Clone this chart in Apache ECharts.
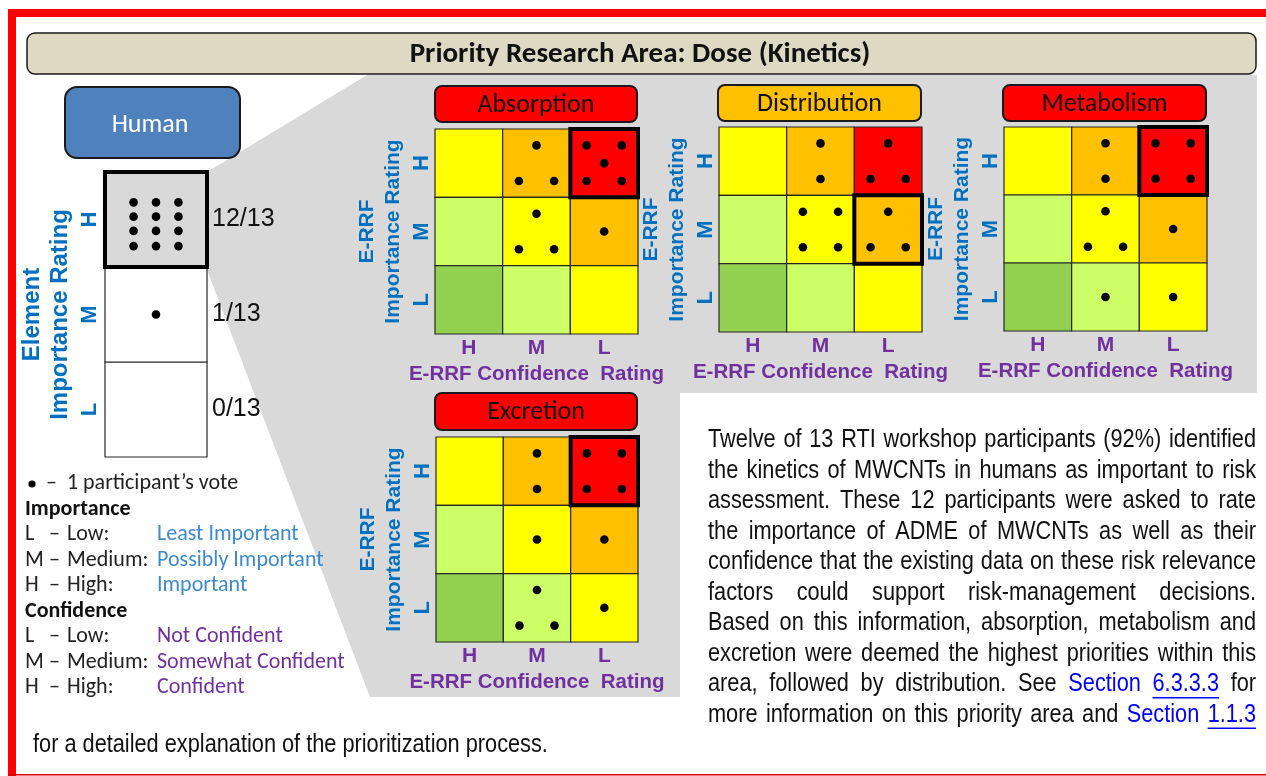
<!DOCTYPE html>
<html>
<head>
<meta charset="utf-8">
<script src="https://cdn.jsdelivr.net/npm/echarts@6/dist/echarts.min.js"></script>
<style>
  html, body { margin: 0; padding: 0; background: #fff; }
  #main { width: 1266px; height: 776px; }
</style>
</head>
<body>
<div id="main"></div>
<script>
// axis levels
const confidenceLevels = ['H', 'M', 'L'];
const importanceLevels = ['L', 'M', 'H'];
// votes per cell: rows = importance H, M, L ; columns = confidence H, M, L
const absorptionVotes = [[0, 3, 5], [0, 3, 1], [0, 0, 0]];
const distributionVotes = [[0, 2, 3], [0, 4, 3], [0, 0, 0]];
const metabolismVotes = [[0, 2, 4], [0, 3, 1], [0, 1, 1]];
const excretionVotes = [[0, 2, 4], [0, 1, 1], [0, 3, 1]];
// boxed (highest priority) cell of each matrix: [confidence, importance]
const absorptionTop = ['L', 'H'];
const distributionTop = ['L', 'M'];
const metabolismTop = ['L', 'H'];
const excretionTop = ['L', 'H'];
// element importance (Human)
const elementLevels = ['L', 'M', 'H'];
const elementVotes = [0, 1, 12];
const participants = 13;

const BLUE = '#0070C0', PURPLE = '#7030A0';
const riskColors = [
  ['#FFFF00', '#FFC000', '#FF0000'],
  ['#CCFF66', '#FFFF00', '#FFC000'],
  ['#92D050', '#CCFF66', '#FFFF00']
];
const CAL = 'Carlito, Lato, "Open Sans", sans-serif';
const ARIAL = '"Liberation Sans", Arial, sans-serif';

const matrices = [
  { name: 'Absorption', votes: absorptionVotes, top: absorptionTop, head: '#FF0000',
    grid: { left: 435, top: 129, width: 203, height: 205 }, box: [435, 86, 202, 36] },
  { name: 'Distribution', votes: distributionVotes, top: distributionTop, head: '#FFC000',
    grid: { left: 719, top: 127, width: 203, height: 205 }, box: [718, 85, 203, 36] },
  { name: 'Metabolism', votes: metabolismVotes, top: metabolismTop, head: '#FF0000',
    grid: { left: 1004, top: 127, width: 203, height: 204 }, box: [1003, 85, 203, 36] },
  { name: 'Excretion', votes: excretionVotes, top: excretionTop, head: '#FF0000',
    grid: { left: 436, top: 437, width: 202, height: 205 }, box: [435, 393, 202, 37] }
];

// where the dots sit inside a cell (fractions of the cell, from its centre)
function dotOffsets(n) {
  const a = 0.26;
  if (n === 1) return [[0, 0]];
  if (n === 2) return [[0, -a], [0, a]];
  if (n === 3) return [[0, -a], [-a, a], [a, a]];
  if (n === 4) return [[-a, -a], [a, -a], [-a, a], [a, a]];
  if (n === 5) return [[-a, -a], [a, -a], [0, 0], [-a, a], [a, a]];
  const out = [];
  const rows = [-0.18, -0.03, 0.12, 0.28];
  for (let i = 0; i < n; i++) out.push([[-0.22, 0, 0.22][i % 3], rows[Math.floor(i / 3)]]);
  return out;
}

function cellRender(fill) {
  return function (params, api) {
    const x = api.value(0), y = api.value(1), n = api.value(2);
    const c = api.coord([x, y]);
    const s = api.size([1, 1]);
    const kids = [{
      type: 'rect',
      shape: { x: c[0] - s[0] / 2, y: c[1] - s[1] / 2, width: s[0], height: s[1] },
      style: { fill: fill(x, y), stroke: '#262626', lineWidth: 1.2 }
    }];
    dotOffsets(n).forEach(o => kids.push({
      type: 'circle',
      shape: { cx: c[0] + o[0] * s[0], cy: c[1] + o[1] * s[1], r: 4.3 },
      style: { fill: '#000' }
    }));
    return { type: 'group', children: kids };
  };
}

function boxRender(params, api) {
  const c = api.coord([api.value(0), api.value(1)]);
  const s = api.size([1, 1]);
  return {
    type: 'rect',
    shape: { x: c[0] - s[0] / 2, y: c[1] - s[1] / 2, width: s[0], height: s[1] },
    style: { fill: 'none', stroke: '#000', lineWidth: 4 }
  };
}

const grids = [], xAxes = [], yAxes = [], series = [];
matrices.forEach((m, i) => {
  grids.push(m.grid);
  xAxes.push({
    type: 'category', gridIndex: i, data: confidenceLevels,
    axisLine: { show: false }, axisTick: { show: false }, splitLine: { show: false },
    axisLabel: { color: PURPLE, fontWeight: 'bold', fontSize: 21, fontFamily: ARIAL, margin: 4 },
    name: 'E-RRF Confidence  Rating', nameLocation: 'middle', nameGap: 30,
    nameTextStyle: { color: PURPLE, fontWeight: 'bold', fontSize: 20.5, fontFamily: ARIAL }
  });
  yAxes.push({
    type: 'category', gridIndex: i, data: importanceLevels,
    axisLine: { show: false }, axisTick: { show: false }, splitLine: { show: false },
    axisLabel: { color: BLUE, fontWeight: 'bold', fontSize: 22, fontFamily: ARIAL, rotate: 90, margin: 2 },
    name: 'E-RRF\nImportance Rating', nameLocation: 'middle', nameRotate: 90, nameGap: 29,
    nameTextStyle: { color: BLUE, fontWeight: 'bold', fontSize: 21, fontFamily: ARIAL, lineHeight: 26 }
  });
  const data = [];
  m.votes.forEach((row, r) => row.forEach((v, c) => data.push([c, 2 - r, v])));
  series.push({
    type: 'custom', xAxisIndex: i, yAxisIndex: i, data: data,
    renderItem: cellRender((x, y) => riskColors[2 - y][x])
  });
  series.push({
    type: 'custom', xAxisIndex: i, yAxisIndex: i, z: 3,
    data: [[confidenceLevels.indexOf(m.top[0]), importanceLevels.indexOf(m.top[1])]],
    renderItem: boxRender
  });
});

// element (Human) column
grids.push({ left: 105, top: 172, width: 102, height: 285 });
xAxes.push({ type: 'category', gridIndex: 4, data: ['Human'], show: false });
yAxes.push({
  type: 'category', gridIndex: 4, data: elementLevels,
  axisLine: { show: false }, axisTick: { show: false }, splitLine: { show: false },
  axisLabel: { color: BLUE, fontWeight: 'bold', fontSize: 22, fontFamily: ARIAL, rotate: 90, margin: 4 },
  name: 'Element\nImportance Rating', nameLocation: 'middle', nameRotate: 90, nameGap: 31,
  nameTextStyle: { color: BLUE, fontWeight: 'bold', fontSize: 24, fontFamily: ARIAL, lineHeight: 28 }
});
yAxes.push({
  type: 'category', gridIndex: 4, position: 'right', data: elementVotes.map(v => v + '/' + participants),
  axisLine: { show: false }, axisTick: { show: false }, splitLine: { show: false },
  axisLabel: { color: '#111', fontSize: 25, fontFamily: ARIAL, margin: 5 }
});
const topElement = elementVotes.indexOf(Math.max(...elementVotes));
series.push({
  type: 'custom', xAxisIndex: 4, yAxisIndex: 4,
  data: elementVotes.map((v, i) => [0, i, v]),
  renderItem: cellRender((x, y) => y === topElement ? '#D9D9D9' : '#FFFFFF')
});
series.push({
  type: 'custom', xAxisIndex: 4, yAxisIndex: 4, z: 3,
  data: [[0, topElement]], renderItem: boxRender
});

// ---------- static drawing: frame, headers, legend, paragraph ----------
const g = [];
g.push({ type: 'rect', z: -20, shape: { x: 8, y: 9, width: 1258, height: 8 }, style: { fill: '#FF0000' } });
g.push({ type: 'rect', z: -20, shape: { x: 8, y: 9, width: 8, height: 767 }, style: { fill: '#FF0000' } });
g.push({ type: 'rect', z: -20, shape: { x: 8, y: 774, width: 1258, height: 1.5 }, style: { fill: '#E00000' } });
g.push({
  type: 'polygon', z: -10,
  shape: { points: [[367, 75], [1257, 75], [1257, 393], [680, 393], [680, 697], [370, 697], [207, 270], [207, 172]] },
  style: { fill: '#D9D9D9' }
});
g.push({ type: 'rect', shape: { x: 27, y: 33, width: 1229, height: 41, r: 8 }, style: { fill: '#DDD9C3', stroke: '#1a1a1a', lineWidth: 1.5 } });
g.push({ type: 'text', x: 640, y: 55, style: { text: 'Priority Research Area: Dose (Kinetics)', fontFamily: CAL, fontWeight: 'bold', fontSize: 29, fill: '#111', align: 'center', verticalAlign: 'middle' } });
g.push({ type: 'rect', shape: { x: 65, y: 87, width: 175, height: 71, r: 12 }, style: { fill: '#4F81BD', stroke: '#1a1a1a', lineWidth: 2 } });
g.push({ type: 'text', x: 150, y: 125, style: { text: 'Human', fontFamily: CAL, fontSize: 26, fill: '#fff', align: 'center', verticalAlign: 'middle' } });
matrices.forEach(m => {
  const b = m.box;
  g.push({ type: 'rect', shape: { x: b[0], y: b[1], width: b[2], height: b[3], r: 7 }, style: { fill: m.head, stroke: '#1a1a1a', lineWidth: 2 } });
  g.push({ type: 'text', x: b[0] + b[2] / 2, y: b[1] + b[3] / 2 + 1, style: { text: m.name, fontFamily: CAL, fontSize: 26, fill: '#111', align: 'center', verticalAlign: 'middle' } });
});

// legend
const legendRows = [
  ['Importance'],
  ['L', 'Low:', 'Least Important', '#3C8AD0'],
  ['M', 'Medium:', 'Possibly Important', '#3C8AD0'],
  ['H', 'High:', 'Important', '#3C8AD0'],
  ['Confidence'],
  ['L', 'Low:', 'Not Confident', PURPLE],
  ['M', 'Medium:', 'Somewhat Confident', PURPLE],
  ['H', 'High:', 'Confident', PURPLE]
];
const legFont = { fontFamily: CAL, fontSize: 22, fill: '#222', verticalAlign: 'middle' };
g.push({ type: 'circle', shape: { cx: 32, cy: 484, r: 3.6 }, style: { fill: '#000' } });
g.push({ type: 'text', x: 46, y: 483, style: Object.assign({ text: '–  1 participant’s vote' }, legFont) });
legendRows.forEach((row, i) => {
  const y = 509 + i * 25.5;
  if (row.length === 1) {
    g.push({ type: 'text', x: 25, y: y, style: Object.assign({}, legFont, { text: row[0], fontWeight: 'bold', fill: '#111' }) });
    return;
  }
  g.push({ type: 'text', x: 25, y: y, style: Object.assign({ text: row[0] }, legFont) });
  g.push({ type: 'text', x: 49, y: y, style: Object.assign({ text: '–' }, legFont) });
  g.push({ type: 'text', x: 67, y: y, style: Object.assign({ text: row[1] }, legFont) });
  g.push({ type: 'text', x: 157, y: y, style: Object.assign({}, legFont, { text: row[2], fill: row[3] }) });
});

// paragraph (justified)
const paraLines = [
  'Twelve of 13 RTI workshop participants (92%) identified',
  'the kinetics of MWCNTs in humans as important to risk',
  'assessment. These 12 participants were asked to rate',
  'the importance of ADME of MWCNTs as well as their',
  'confidence that the existing data on these risk relevance',
  'factors could support risk-management decisions.',
  'Based on this information, absorption, metabolism and',
  'excretion were deemed the highest priorities within this',
  'area, followed by distribution. See ^Section _6.3.3.3 for',
  'more information on this priority area and ^Section _1.1.3'
];
const paraTail = 'for a detailed explanation of the prioritization process.';

const ctx = document.createElement('canvas').getContext('2d');
function measure(t, size, fam) { ctx.font = size + 'px ' + fam; return ctx.measureText(t).width; }
const probe = 'abcdefghijklmnopqrstuvwxyz ABCDEFGHIJ';
const hasNarrow = measure(probe, 20, '"Liberation Sans Narrow", monospace') !== measure(probe, 20, 'monospace');
const PFAM = hasNarrow ? '"Liberation Sans Narrow", "Arial Narrow", sans-serif' : '"Liberation Sans", Arial, sans-serif';
const SX = hasNarrow ? 1 : 0.82;
const PSIZE = 22 * 515 / (measure(paraTail, 22, PFAM) * SX);

function pushWord(x, y, word) {
  let fill = '#111', underline = false;
  if (word[0] === '^') { word = word.slice(1); fill = '#0000FF'; }
  else if (word[0] === '_') { word = word.slice(1); fill = '#0000FF'; underline = true; }
  const w = measure(word, PSIZE, PFAM) * SX;
  g.push({ type: 'text', x: x, y: y, scaleX: SX, style: { text: word, fontFamily: PFAM, fontSize: PSIZE, fill: fill, verticalAlign: 'middle' } });
  if (underline) g.push({ type: 'line', shape: { x1: x, y1: y + PSIZE * 0.52, x2: x + w, y2: y + PSIZE * 0.52 }, style: { stroke: '#0000FF', lineWidth: 1.5 } });
  return w;
}
const PX0 = 708, PX1 = 1256;
paraLines.forEach((line, i) => {
  const y = 440 + i * 30.5;
  const words = line.split(' ');
  const widths = words.map(w => measure(w.replace(/^[\^_]/, ''), PSIZE, PFAM) * SX);
  const gap = (PX1 - PX0 - widths.reduce((a, b) => a + b, 0)) / (words.length - 1);
  let x = PX0;
  words.forEach((w, k) => { pushWord(x, y, w); x += widths[k] + gap; });
});
g.push({ type: 'text', x: 33, y: 745, scaleX: SX, style: { text: paraTail, fontFamily: PFAM, fontSize: PSIZE, fill: '#111', verticalAlign: 'middle' } });

const chart = echarts.init(document.getElementById('main'), null, { renderer: 'canvas' });
chart.setOption({
  backgroundColor: '#fff',
  animation: false,
  grid: grids,
  xAxis: xAxes,
  yAxis: yAxes,
  series: series,
  graphic: { elements: g }
});
</script>
</body>
</html>
